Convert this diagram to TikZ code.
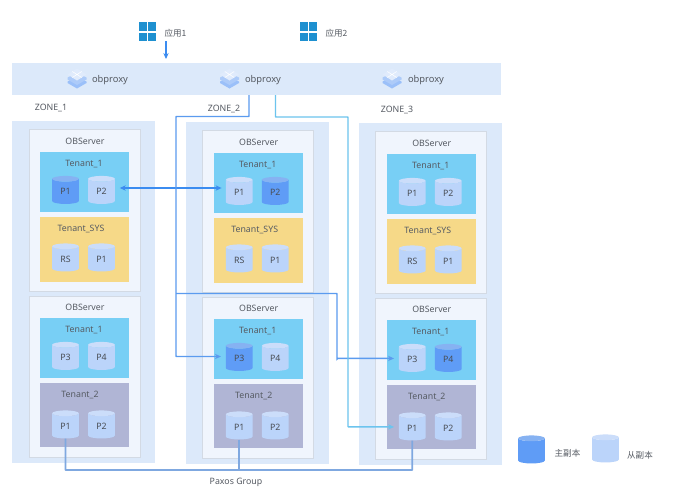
\documentclass[tikz,border=0pt]{standalone}
\usepackage{fontspec}
\setmainfont{Noto Sans}
\newfontfamily\cjkfont{Noto Sans CJK SC}
\usetikzlibrary{shapes.geometric,arrows.meta}
\definecolor{zonebg}{HTML}{DCE9FA}
\definecolor{serverbg}{HTML}{F0F5FD}
\definecolor{serverln}{HTML}{D3DAE4}
\definecolor{tenantone}{HTML}{78CFF5}
\definecolor{tenantsys}{HTML}{F6D988}
\definecolor{tenanttwo}{HTML}{B0B5D5}
\definecolor{mainbody}{HTML}{5F9CF6}
\definecolor{maintop}{HTML}{86B2F2}
\definecolor{subbody}{HTML}{BBD4FA}
\definecolor{subtop}{HTML}{CBDDFA}
\definecolor{txt}{HTML}{565B63}
\definecolor{linkblue}{HTML}{5B9BEF}
\definecolor{linkbright}{HTML}{3B8CF0}
\definecolor{linkcyan}{HTML}{6CC4EE}
\definecolor{linkpax}{HTML}{7FA8E0}
\definecolor{winblue}{HTML}{1E90D0}
\tikzset{
  x=.75pt,y=-.75pt,
  lbl/.style={font=\fontsize{6.6pt}{8pt}\selectfont,text=txt,inner sep=0pt},
  cjk/.style={font=\cjkfont\fontsize{6.4pt}{8pt}\selectfont,text=txt,inner sep=0pt},
  cyl/.style={cylinder,shape border rotate=90,aspect=.55,draw=none,inner sep=0pt,
     minimum width=20pt,minimum height=21pt,cylinder uses custom fill,
     font=\fontsize{6.6pt}{8pt}\selectfont,text=txt!85!black},
  cylmain/.style={cyl,cylinder body fill=mainbody,cylinder end fill=maintop},
  cylsub/.style={cyl,cylinder body fill=subbody,cylinder end fill=subtop},
  zonebox/.style={fill=zonebg,draw=none},
  serverbox/.style={fill=serverbg,draw=serverln,line width=.6pt},
  link/.style={line width=1.1pt,linkblue,-{Stealth[length=4.5pt,width=4pt]},rounded corners=.4pt},
  plainlink/.style={line width=1.4pt,rounded corners=.4pt},
}
\newcommand{\tenantbox}[6]{%
  \fill[#1] (40,#2) rectangle (129,#3);
  \node[lbl] (#6) at (#4,{#2+11.6}) {#5};}
\newcommand{\cylpair}[6]{%
  \node[#2] (#6a) at (65.5,#1) {#3};
  \node[#4] (#6b) at (101.5,#1) {#5};}
\newcommand{\winicon}[2]{%
  \begin{scope}[shift={(#1,#2)}]
   \foreach \a/\b in {0/0,9/0,0/10.5,9/10.5}{\fill[winblue] (\a,\b) rectangle ++(7.5,8.5);}
  \end{scope}}
\newcommand{\proxyicon}[2]{%
  \begin{scope}[shift={(#1,#2)}]
   \fill[subbody!65!mainbody] (-9.5,3.5) -- (-9.5,5) -- (0,10.5) -- (9.5,5) -- (9.5,3.5) -- (0,-1) -- cycle;
   \fill[subbody!85!mainbody] (-9.5,-.5) -- (-9.5,1.5) -- (0,7) -- (9.5,1.5) -- (9.5,-.5) -- (0,-5) -- cycle;
   \fill[subtop!60!white] (-9.5,-3.5) -- (0,-9.5) -- (9.5,-3.5) -- (0,2.5) -- cycle;
   \draw[white,line width=.4pt] (-4.7,-6.5) -- (4.7,-.5) (4.7,-6.5) -- (-4.7,-.5);
  \end{scope}}
\newcommand{\zonepart}[4]{%
  \begin{scope}[shift={(#2,#3)},name prefix=#1-]
    \fill[zonebox] (12,121) rectangle (155,463);
    \draw[serverbox] (29,129) rectangle (140,291);
    \draw[serverbox] (29,296) rectangle (140,457);
    \node[lbl] (srvA) at (85,141) {OBServer};
    \node[lbl] (srvB) at (85,307) {OBServer};
    \tenantbox{tenantone}{152}{212}{84}{Tenant\_1}{tA}
    \tenantbox{tenantsys}{217}{282}{81}{Tenant\_SYS}{tS}
    \tenantbox{tenantone}{318}{378}{84}{Tenant\_1}{tB}
    \tenantbox{tenanttwo}{383}{447}{80}{Tenant\_2}{tT}
    #4
    \cylpair{259}{cylsub}{RS}{cylsub}{P1}{s}
    \cylpair{426}{cylsub}{P1}{cylsub}{P2}{q}
  \end{scope}}
\begin{document}
\begin{tikzpicture}
\useasboundingbox (0,0) rectangle (676,500);
\fill[white] (0,0) rectangle (676,500);
\winicon{139}{22}
\winicon{300}{22}
\node[cjk] (appA) at (175.5,33) {应用1};
\node[cjk] (appB) at (336.5,33) {应用2};
\node[fill=zonebg,inner sep=0pt,minimum width=367pt,minimum height=24pt] (band) at (256.5,79) {};
\proxyicon{77}{78}
\proxyicon{229.5}{78}
\proxyicon{392}{78}
\node[lbl,font=\fontsize{7pt}{8pt}\selectfont] (pxA) at (110,80) {obproxy};
\node[lbl,font=\fontsize{7pt}{8pt}\selectfont] (pxB) at (263,80) {obproxy};
\node[lbl,font=\fontsize{7pt}{8pt}\selectfont] (pxC) at (426,80) {obproxy};
\node[lbl] (zA) at (51,108) {ZONE\_1};
\node[lbl] (zB) at (224,109) {ZONE\_2};
\node[lbl] (zC) at (397,110) {ZONE\_3};
\zonepart{z1}{0}{0}{\cylpair{191.5}{cylmain}{P1}{cylsub}{P2}{t}\cylpair{357.5}{cylsub}{P3}{cylsub}{P4}{u}}
\zonepart{z2}{173.7}{1}{\cylpair{191.5}{cylsub}{P1}{cylmain}{P2}{t}\cylpair{357.5}{cylmain}{P3}{cylsub}{P4}{u}}
\zonepart{z3}{346.8}{2}{\cylpair{191.5}{cylsub}{P1}{cylsub}{P2}{t}\cylpair{357.5}{cylsub}{P3}{cylmain}{P4}{u}}
\coordinate (appOut) at (166,41);
\coordinate (bandIn) at (166,59);
\coordinate (oLeft) at (249,95);
\coordinate (oRight) at (275.5,95);
\coordinate (busA) at (176,116.5);
\coordinate (busB) at (348,117);
\coordinate (split) at (176,293.5);
\coordinate (jog) at (337,359);
\coordinate (pax) at (0,470);
\coordinate (dbl) at (0,188);
\draw[link,line width=.8pt,linkbright] (appOut) -- (bandIn);
\draw[link,linkbright,{Stealth[length=4.5pt,width=4pt]}-{Stealth[length=4.5pt,width=4pt]},shorten <=3.5pt,shorten >=3pt] (z1-tb.east |- dbl) -- (z2-ta.west |- dbl);
\draw[link,shorten >=3.5pt] (oLeft) |- (busA) |- ([yshift=1.5pt]z2-ua.west);
\draw[link,shorten >=3.5pt] (split) -| (jog) |- ([yshift=.8pt]z3-ua.west);
\draw[link,linkcyan,shorten >=3.5pt] (oRight) |- (busB) |- ([yshift=.8pt]z3-qa.west);
\draw[plainlink,linkpax] (z1-qa.south) -- (z1-qa.south |- pax) -- (z3-qa.south |- pax) -- (z3-qa.south);
\draw[plainlink,linkpax] (z2-qa.south) -- (z2-qa.south |- pax);
\node[lbl] (paxos) at (236,482) {Paxos Group};
\node[cylmain] (legA) at (531.5,451) {\phantom{P1}};
\node[cylsub] (legB) at (605.5,450) {\phantom{P1}};
\node[cjk] (legAt) at (567.5,453) {主副本};
\node[cjk] (legBt) at (640,455) {从副本};
\end{tikzpicture}
\end{document}
